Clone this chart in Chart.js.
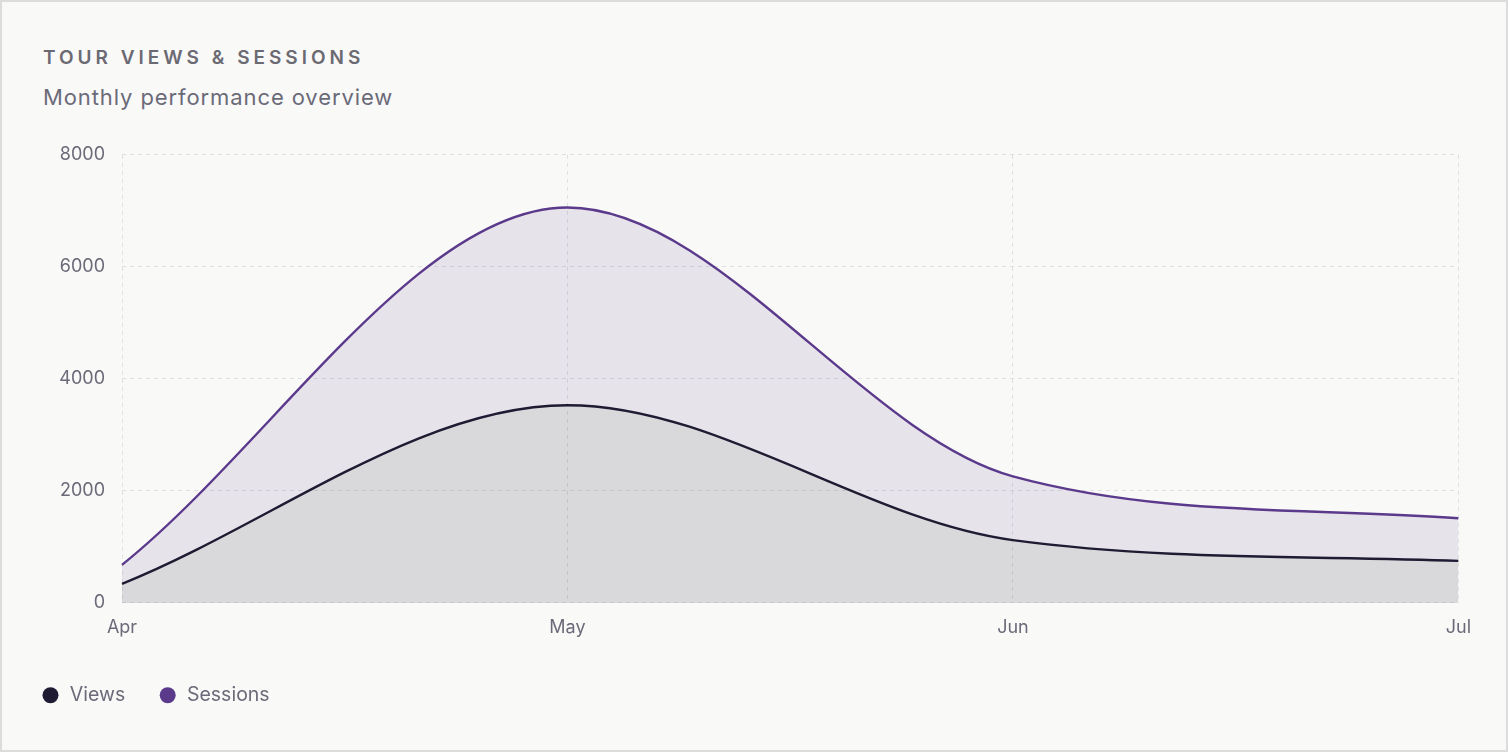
<!DOCTYPE html>
<html>
<head>
<meta charset="utf-8">
<script src="https://cdn.jsdelivr.net/npm/chart.js@4.4.1/dist/chart.umd.min.js"></script>
<style>
  html, body { margin: 0; padding: 0; background: #f9f9f8; }
  body { width: 1508px; height: 752px; overflow: hidden; font-family: Inter, "Noto Sans", sans-serif; }
  .card {
    position: absolute; left: 0; top: 0; width: 1504px; height: 748px;
    border: 2px solid #dcdcdc; background: #f9f9f8;
  }
  .title {
    position: absolute; left: 41px; top: 44px;
    font-size: 19px; font-weight: 600; letter-spacing: 4px; color: #6b6a72;
  }
  .subtitle {
    position: absolute; left: 41px; top: 82px;
    font-size: 22px; letter-spacing: 0.9px; color: #6b6a78;
  }
  .wrap { position: absolute; left: 6px; top: 125px; width: 1477px; height: 588px; }
</style>
</head>
<body>
<div class="card">
  <div class="title">TOUR VIEWS &amp; SESSIONS</div>
  <div class="subtitle">Monthly performance overview</div>
  <div class="wrap"><canvas id="chart"></canvas></div>
</div>
<script>
const months = ['Apr', 'May', 'Jun', 'Jul'];
const views = [340, 3530, 1120, 750];
const sessions = [680, 7060, 2260, 1510];

const ctx = document.getElementById('chart').getContext('2d');
new Chart(ctx, {
    type: 'line',
    data: {
        labels: months,
        datasets: [
            {
                label: 'Views',
                data: views,
                borderColor: '#1e1b33',
                backgroundColor: 'rgba(30,27,51,0.145)',
                fill: 'origin',
                borderWidth: 2.4,
                pointRadius: 0,
                cubicInterpolationMode: 'monotone'
            },
            {
                label: 'Sessions',
                data: sessions,
                borderColor: '#5b3a8c',
                backgroundColor: 'rgba(91,58,140,0.11)',
                fill: '-1',
                borderWidth: 2.4,
                pointRadius: 0,
                cubicInterpolationMode: 'monotone'
            }
        ]
    },
    options: {
        responsive: true,
        maintainAspectRatio: false,
        animation: false,
        layout: { padding: { left: 0, right: 8, top: 0, bottom: 0 } },
        plugins: {
            tooltip: { enabled: false },
            legend: {
                position: 'bottom',
                align: 'start',
                labels: {
                    usePointStyle: true,
                    pointStyle: 'circle',
                    boxWidth: 19,
                    boxHeight: 11.3,
                    padding: 33,
                    color: '#6b6a78',
                    font: { family: 'Inter', size: 19.5 },
                    // legend dots filled with the line colour
                    generateLabels: chart => chart.data.datasets.map((ds, i) => ({
                        text: ds.label,
                        fillStyle: ds.borderColor,
                        strokeStyle: ds.borderColor,
                        lineWidth: 0,
                        pointStyle: 'circle',
                        datasetIndex: i,
                        fontColor: '#6b6a78'
                    }))
                }
            }
        },
        scales: {
            x: {
                offset: false,
                grid: { color: '#e0e0e2', drawTicks: false },
                border: { display: false, dash: [4, 4] },
                ticks: { color: '#6b6a78', font: { family: 'Inter', size: 18 }, padding: 14 }
            },
            y: {
                min: 0,
                max: 8000,
                afterFit: scale => { scale.width = 114; },
                grid: { color: '#e0e0e2', drawTicks: false },
                border: { display: false, dash: [4, 4] },
                ticks: {
                    stepSize: 2000,
                    color: '#6b6a78',
                    font: { family: 'Inter', size: 18 },
                    padding: 17,
                    callback: v => String(v)
                }
            }
        }
    }
});
</script>
</body>
</html>
